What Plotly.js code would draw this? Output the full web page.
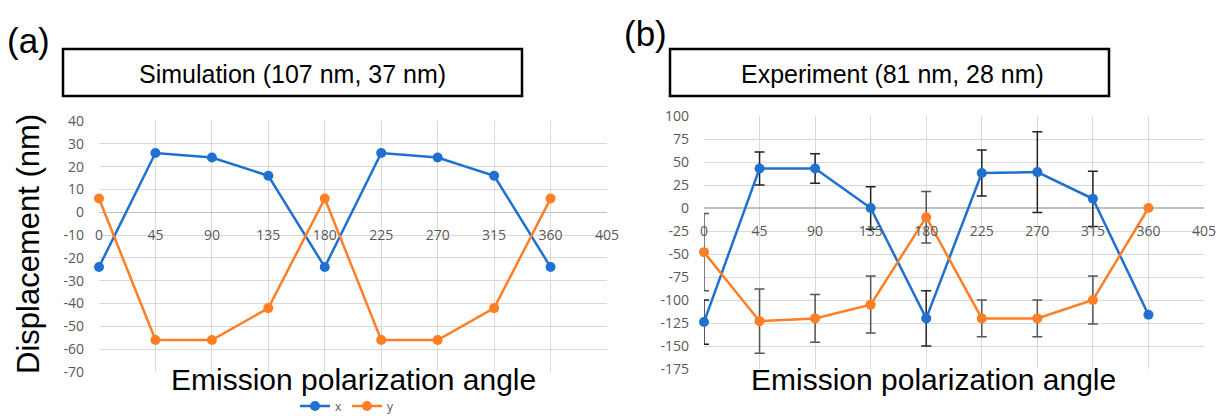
<!DOCTYPE html>
<html>
<head>
<meta charset="utf-8">
<script src="https://cdn.plot.ly/plotly-3.0.1.min.js"></script>
<style>html,body{margin:0;padding:0;background:#fff}#chart{width:1218px;height:416px}</style>
</head>
<body>
<div id="chart"></div>
<script>
// ---- data ----
const angles = [0, 45, 90, 135, 180, 225, 270, 315, 360];
const xTicks = [0, 45, 90, 135, 180, 225, 270, 315, 360, 405];

const simX = [-24, 26, 24, 16, -24, 26, 24, 16, -24];
const simY = [6, -56, -56, -42, 6, -56, -56, -42, 6];

const expX = [-124, 43, 43, 0, -120, 38, 39, 10, -116];
const expXErr = [24, 18, 16, 23, 30, 25, 44, 30, NaN];
const expY = [-48, -123, -120, -105, -10, -120, -120, -100, 0];
const expYErr = [42, 35, 26, 31, 28, 20, 20, 26, NaN];

const simYTicks = [40, 30, 20, 10, 0, -10, -20, -30, -40, -50, -60, -70];
const expYTicks = [100, 75, 50, 25, 0, -25, -50, -75, -100, -125, -150, -175];

const seriesNames = ['x', 'y'];
const panelTitles = ['Simulation (107 nm, 37 nm)', 'Experiment (81 nm, 28 nm)'];
const panelLabels = ['(a)', '(b)'];
const xTitle = 'Emission polarization angle';
const yTitle = 'Displacement (nm)';

// ---- style ----
const W = 1218, H = 416;
const BLUE = '#1f70cf', ORANGE = '#ff7f27';
const px = v => v / W, py = v => 1 - v / H;

const domA = {x: [px(99), px(607)], y: [py(372), py(121)]};
const domB = {x: [px(704), px(1204)], y: [py(369), py(116)]};
const rangeA = [-70, 40], rangeB = [-175, 100];
const zeroPos = (dom, r) => dom.y[0] + (0 - r[0]) / (r[1] - r[0]) * (dom.y[1] - dom.y[0]);

const tickFont = {family: 'Open Sans, sans-serif', size: 14, color: '#595959'};
const gridC = '#d9d9d9';

function line(color) { return {color: color, width: 2.5}; }
function mk(color) { return {color: color, size: 10}; }

const traces = [
  {x: angles, y: simX, name: seriesNames[0], mode: 'lines+markers', line: line(BLUE), marker: mk(BLUE), xaxis: 'x', yaxis: 'y', cliponaxis: false},
  {x: angles, y: simY, name: seriesNames[1], mode: 'lines+markers', line: line(ORANGE), marker: mk(ORANGE), xaxis: 'x', yaxis: 'y', cliponaxis: false},
  {x: angles, y: expX, name: seriesNames[0], mode: 'lines+markers', line: line(BLUE), marker: mk(BLUE), xaxis: 'x2', yaxis: 'y2', showlegend: false, cliponaxis: false,
   error_y: {type: 'data', array: expXErr, visible: true, color: '#222222', thickness: 1.5, width: 5}},
  {x: angles, y: expY, name: seriesNames[1], mode: 'lines+markers', line: line(ORANGE), marker: mk(ORANGE), xaxis: 'x2', yaxis: 'y2', showlegend: false, cliponaxis: false,
   error_y: {type: 'data', array: expYErr, visible: true, color: '#555555', thickness: 1.5, width: 5}}
];

function xAxis(dom, r) {
  return {domain: dom.x, range: [0, 405], tickvals: xTicks, ticktext: xTicks.map(String),
    showgrid: true, gridcolor: gridC, gridwidth: 1, zeroline: false, showline: false,
    anchor: 'free', position: zeroPos(dom, r), ticks: '', ticklabelstandoff: 13,
    tickfont: tickFont, fixedrange: true, automargin: false};
}
function yAxis(dom, r, ticks) {
  return {domain: dom.y, range: r, tickvals: ticks, ticktext: ticks.map(String),
    showgrid: true, gridcolor: gridC, gridwidth: 1, zeroline: true, zerolinecolor: '#bfbfbf', zerolinewidth: 1.5,
    showline: false, ticks: '', ticklabelstandoff: 14, tickfont: tickFont, fixedrange: true, automargin: false};
}

const big = {family: 'Liberation Sans, Arial, sans-serif', color: '#000'};
function ann(text, x, y, size, extra) {
  return Object.assign({text: text, x: px(x), y: py(y), xref: 'paper', yref: 'paper', xanchor: 'center', yanchor: 'middle',
    showarrow: false, font: Object.assign({size: size}, big)}, extra || {});
}
const annotations = [
  ann(panelLabels[0], 28, 40, 35),
  ann(panelLabels[1], 645, 33, 35),
  ann(panelTitles[0], 292, 74, 25),
  ann(panelTitles[1], 892, 74, 25),
  ann(yTitle, 28, 244, 31, {textangle: -90}),
  ann(xTitle, 353, 379, 30),
  ann(xTitle, 933, 379, 30)
];

const shapes = [
  {type: 'rect', xref: 'paper', yref: 'paper', x0: px(63), x1: px(522), y0: py(96), y1: py(49), line: {color: '#000', width: 2.5}},
  {type: 'rect', xref: 'paper', yref: 'paper', x0: px(670), x1: px(1109), y0: py(96), y1: py(49), line: {color: '#000', width: 2.5}}
];

const layout = {
  width: W, height: H, margin: {l: 0, r: 0, t: 0, b: 0, autoexpand: false},
  paper_bgcolor: '#fff', plot_bgcolor: 'rgba(0,0,0,0)',
  xaxis: xAxis(domA, rangeA), yaxis: yAxis(domA, rangeA, simYTicks),
  xaxis2: xAxis(domB, rangeB), yaxis2: yAxis(domB, rangeB, expYTicks),
  showlegend: true,
  legend: {orientation: 'h', xref: 'container', yref: 'container', x: px(347), xanchor: 'center', y: py(406), yanchor: 'middle',
    font: {family: 'Open Sans, sans-serif', size: 12, color: '#595959'}, bgcolor: 'rgba(0,0,0,0)', itemwidth: 30, tracegroupgap: 0,
    borderwidth: 0},
  annotations: annotations, shapes: shapes
};
layout.yaxis2.anchor = 'x2';
layout.yaxis.anchor = 'x';

Plotly.newPlot('chart', traces, layout, {displayModeBar: false, staticPlot: true});
</script>
</body>
</html>
